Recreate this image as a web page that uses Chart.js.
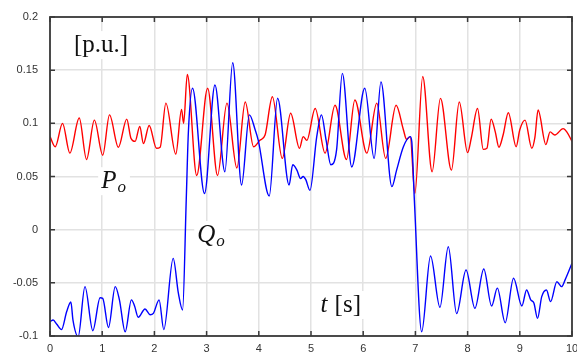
<!DOCTYPE html>
<html>
<head>
<meta charset="utf-8">
<script src="https://cdn.jsdelivr.net/npm/chart.js@4"></script>
<style>
  body { margin: 0; background: #fff; }
  #wrap { width: 577px; height: 352px; }
</style>
</head>
<body>
<div id="wrap"><canvas id="powerChart" width="577" height="352"></canvas></div>
<script>
// time axis [s] and values [p.u.]
const pTime = [0, 0.10, 0.24, 0.38, 0.56, 0.70, 0.85, 1.01, 1.14, 1.31, 1.47, 1.55, 1.63, 1.72, 1.79, 1.90, 2.04, 2.11, 2.22, 2.41, 2.52, 2.56, 2.63, 2.81, 3.02, 3.21, 3.39, 3.58, 3.74, 3.90, 4.02, 4.12, 4.26, 4.45, 4.61, 4.78, 4.85, 4.92, 5.08, 5.27, 5.46, 5.68, 5.84, 6.07, 6.26, 6.43, 6.63, 6.77, 6.83, 6.90, 6.99, 7.14, 7.32, 7.48, 7.69, 7.84, 8.00, 8.07, 8.19, 8.30, 8.37, 8.45, 8.53, 8.60, 8.68, 8.78, 8.93, 9.00, 9.10, 9.23, 9.29, 9.35, 9.50, 9.58, 9.67, 9.83, 9.90, 10.0];
const pValue = [0.0875, 0.078, 0.100, 0.072, 0.105, 0.066, 0.103, 0.070, 0.108, 0.0775, 0.104, 0.086, 0.083, 0.097, 0.081, 0.098, 0.0765, 0.0775, 0.119, 0.071, 0.113, 0.100, 0.146, 0.051, 0.133, 0.051, 0.119, 0.058, 0.120, 0.078, 0.084, 0.089, 0.125, 0.067, 0.1095, 0.0765, 0.0875, 0.084, 0.114, 0.072, 0.117, 0.066, 0.122, 0.072, 0.119, 0.067, 0.117, 0.094, 0.085, 0.0875, 0.034, 0.144, 0.0545, 0.1235, 0.056, 0.120, 0.0725, 0.086, 0.114, 0.0755, 0.0765, 0.104, 0.092, 0.0775, 0.089, 0.110, 0.078, 0.094, 0.103, 0.0765, 0.087, 0.1125, 0.080, 0.092, 0.089, 0.095, 0.092, 0.083];

const qTime = [0, 0.06, 0.13, 0.22, 0.32, 0.40, 0.44, 0.54, 0.67, 0.82, 0.96, 1.01, 1.12, 1.25, 1.33, 1.44, 1.56, 1.62, 1.69, 1.82, 1.92, 1.98, 2.09, 2.18, 2.36, 2.46, 2.54, 2.61, 2.65, 2.73, 2.96, 3.16, 3.35, 3.50, 3.67, 3.82, 3.93, 3.99, 4.20, 4.36, 4.58, 4.65, 4.73, 4.80, 4.85, 4.90, 4.98, 5.11, 5.20, 5.29, 5.38, 5.49, 5.60, 5.78, 6.03, 6.21, 6.34, 6.55, 6.64, 6.77, 6.90, 6.93, 6.98, 7.12, 7.29, 7.47, 7.63, 7.79, 7.97, 8.14, 8.31, 8.46, 8.57, 8.72, 8.88, 9.04, 9.13, 9.21, 9.27, 9.34, 9.42, 9.51, 9.59, 9.71, 9.80, 9.87, 10.0];
const qValue = [-0.0865, -0.085, -0.089, -0.094, -0.077, -0.068, -0.085, -0.1005, -0.0536, -0.095, -0.064, -0.0646, -0.092, -0.0536, -0.066, -0.096, -0.066, -0.0718, -0.0824, -0.0746, -0.080, -0.0787, -0.066, -0.094, -0.027, -0.060, -0.0755, 0.028, 0.0907, 0.133, 0.034, 0.136, 0.0545, 0.157, 0.042, 0.108, 0.094, 0.084, 0.0317, 0.1236, 0.042, 0.061, 0.056, 0.048, 0.050, 0.047, 0.037, 0.0875, 0.108, 0.084, 0.061, 0.075, 0.147, 0.059, 0.133, 0.067, 0.139, 0.0405, 0.056, 0.078, 0.0875, 0.083, 0.028, -0.096, -0.0247, -0.073, -0.016, -0.079, -0.038, -0.074, -0.037, -0.0718, -0.055, -0.0875, -0.0457, -0.0718, -0.0567, -0.066, -0.069, -0.0834, -0.063, -0.0567, -0.0677, -0.049, -0.0536, -0.047, -0.0316];

const xTicks = [0, 1, 2, 3, 4, 5, 6, 7, 8, 9, 10];
const yTicks = [-0.1, -0.05, 0, 0.05, 0.1, 0.15, 0.2];

const toPoints = (ts, vs) => ts.map((t, i) => ({ x: t, y: vs[i] }));

// text notes inside the plot, placed in data units; parts: [text, italic, size, shiftDown]
const notes = [
    { t: 0.46, v: 0.167, parts: [['[p.u.]', false, 25, 0]] },
    { t: 0.98, v: 0.039, parts: [['P', true, 25, 0], ['o', true, 17, 4]] },
    { t: 2.82, v: -0.0116, parts: [['Q', true, 25, 0], ['o', true, 17, 4]] },
    { t: 5.18, v: -0.0774, parts: [['t', true, 25, 0], [' [s]', false, 25, 0]] }
];

const fontOf = (italic, size) => (italic ? 'italic ' : '') + size + 'px "Liberation Serif", serif';

const frame = {
    id: 'frame',
    afterDraw(chart) {
        const { ctx, chartArea: a, scales: { x, y } } = chart;
        ctx.save();
        ctx.strokeStyle = '#3a3a3a';
        ctx.lineWidth = 1.5;
        ctx.beginPath();
        xTicks.forEach(v => {
            const px = x.getPixelForValue(v);
            ctx.moveTo(px, a.bottom); ctx.lineTo(px, a.bottom - 5);
            ctx.moveTo(px, a.top); ctx.lineTo(px, a.top + 5);
        });
        yTicks.forEach(v => {
            const py = y.getPixelForValue(v);
            ctx.moveTo(a.left, py); ctx.lineTo(a.left + 5, py);
            ctx.moveTo(a.right, py); ctx.lineTo(a.right - 5, py);
        });
        ctx.stroke();
        ctx.lineWidth = 1.8;
        ctx.strokeRect(a.left, a.top, a.right - a.left, a.bottom - a.top);

        ctx.textBaseline = 'alphabetic';
        ctx.textAlign = 'left';
        notes.forEach(n => {
            const px = x.getPixelForValue(n.t);
            const py = y.getPixelForValue(n.v);
            let w = 0;
            n.parts.forEach(([s, it, sz]) => { ctx.font = fontOf(it, sz); w += ctx.measureText(s).width + 1; });
            ctx.fillStyle = '#fff';
            ctx.fillRect(px - 3, py - 21, w + 6, 28);
            ctx.fillStyle = '#111';
            let cx = px;
            n.parts.forEach(([s, it, sz, dy]) => {
                ctx.font = fontOf(it, sz);
                ctx.fillText(s, cx, py + dy);
                cx += ctx.measureText(s).width + 1;
            });
        });
        ctx.restore();
    }
};

new Chart(document.getElementById('powerChart'), {
    type: 'line',
    data: {
        datasets: [{
            label: 'Qo',
            data: toPoints(qTime, qValue),
            borderColor: '#0000ff',
            borderWidth: 1.4,
            pointRadius: 0,
            cubicInterpolationMode: 'monotone'
        }, {
            label: 'Po',
            data: toPoints(pTime, pValue),
            borderColor: '#ff0000',
            borderWidth: 1.4,
            pointRadius: 0,
            cubicInterpolationMode: 'monotone'
        }]
    },
    options: {
        responsive: false,
        animation: false,
        layout: { padding: { top: 17, right: 5, left: 0, bottom: 0 } },
        plugins: {
            legend: { display: false },
            tooltip: { enabled: false }
        },
        scales: {
            x: {
                type: 'linear',
                min: 0,
                max: 10,
                afterBuildTicks: s => { s.ticks = xTicks.map(v => ({ value: v })); },
                afterFit: s => { s.height = 16; s.paddingLeft = 0; s.paddingRight = 0; },
                grid: { color: '#e2e2e2', lineWidth: 1.5, drawTicks: false },
                border: { display: false },
                ticks: {
                    padding: 6,
                    color: '#333',
                    font: { family: '"Liberation Sans", Arial, sans-serif', size: 11 },
                    callback: v => String(v)
                }
            },
            y: {
                min: -0.1,
                max: 0.2,
                afterBuildTicks: s => { s.ticks = yTicks.map(v => ({ value: v })); },
                afterFit: s => { s.width = 50; s.paddingTop = 0; s.paddingBottom = 0; },
                grid: { color: '#e2e2e2', lineWidth: 1.5, drawTicks: false },
                border: { display: false },
                ticks: {
                    padding: 12,
                    color: '#333',
                    font: { family: '"Liberation Sans", Arial, sans-serif', size: 11 },
                    callback: v => String(Number(v.toFixed(2)))
                }
            }
        }
    },
    plugins: [frame]
});
</script>
</body>
</html>
